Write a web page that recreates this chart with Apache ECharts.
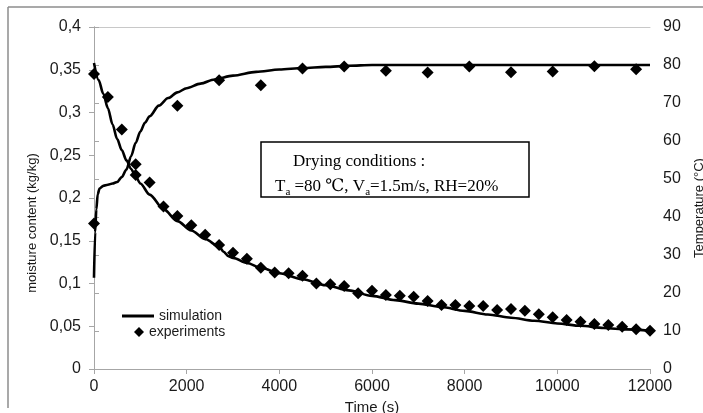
<!DOCTYPE html>
<html>
<head>
<meta charset="utf-8">
<script src="https://cdn.jsdelivr.net/npm/echarts@6/dist/echarts.min.js"></script>
<style>
html,body{margin:0;padding:0;background:#fff;}
#chart{width:703px;height:413px;}
</style>
</head>
<body>
<div id="chart"></div>
<script>
// Time axis ticks (s)
const timeTicks = [0, 2000, 4000, 6000, 8000, 10000, 12000];
const moistureTickLabels = ['0','0,05','0,1','0,15','0,2','0,25','0,3','0,35','0,4'];
const temperatureTickLabels = ['0','10','20','30','40','50','60','70','80','90'];

// Simulation: moisture content (kg/kg)
const simMoistTime = [0,100,200,300,400,500,600,700,800,900,1000,1200,1500,1800,2100,2400,2700,2800,2900,3000,3300,3600,4000,4500,5000,5500,6000,6500,7000,7500,8000,8500,9000,9500,10000,10500,11000,11500,12000];
const simMoistVal  = [0.358,0.338,0.322,0.305,0.286,0.269,0.256,0.244,0.234,0.225,0.217,0.204,0.187,0.173,0.162,0.152,0.143,0.137,0.132,0.130,0.124,0.1185,0.112,0.105,0.098,0.092,0.0855,0.0805,0.0765,0.0725,0.068,0.0638,0.060,0.0565,0.0533,0.0505,0.048,0.0463,0.0448];

// Simulation: temperature (°C)
const simTempTime = [0,25,50,80,120,200,300,400,500,600,700,800,900,1000,1100,1200,1400,1600,1800,2000,2300,2600,3000,3500,4000,4500,5000,5500,6000,7000,8000,9000,10000,11000,12000];
const simTempVal  = [24,36,42,46,47.5,48.2,48.5,48.8,49.2,50.5,52.5,56,59.5,62.5,64.8,66.5,69.3,71.3,72.8,73.9,75.1,76.2,77.2,78.2,78.8,79.2,79.5,79.8,80,80,80,80,80,80,80];

// Experiments: moisture content (kg/kg), every 300 s
const expMoistTime = [0,300,600,900,1200,1500,1800,2100,2400,2700,3000,3300,3600,3900,4200,4500,4800,5100,5400,5700,6000,6300,6600,6900,7200,7500,7800,8100,8400,8700,9000,9300,9600,9900,10200,10500,10800,11100,11400,11700,12000];
const expMoistVal  = [0.345,0.318,0.280,0.227,0.218,0.190,0.179,0.168,0.157,0.145,0.136,0.129,0.1185,0.113,0.112,0.109,0.100,0.099,0.097,0.0885,0.0916,0.0865,0.0858,0.0846,0.0795,0.0749,0.0749,0.0737,0.0737,0.069,0.0702,0.0682,0.064,0.0605,0.0573,0.0553,0.0526,0.0515,0.0495,0.0464,0.0448];

// Experiments: temperature (°C), every 900 s
const expTempTime = [0,900,1800,2700,3600,4500,5400,6300,7200,8100,9000,9900,10800,11700];
const expTempVal  = [38.3,53.9,69.3,76.0,74.7,79.1,79.6,78.5,78.0,79.6,78.1,78.3,79.7,78.9];

const pairs = (xs, ys) => xs.map((x, i) => [x, ys[i]]);

const chart = echarts.init(document.getElementById('chart'), null, {renderer: 'canvas'});
const axisGray = '#a6a6a6';
const sansFamily = 'Liberation Sans, Arial, sans-serif';
const labelFont = {color: '#1a1a1a', fontSize: 16, fontFamily: sansFamily};
const legendText = {color: '#1a1a1a', fontSize: 14, fontFamily: sansFamily};

chart.setOption({
  animation: false,
  backgroundColor: '#fff',
  grid: {left: 94, right: 53, top: 27, bottom: 44, containLabel: false, outerBoundsMode: 'none'},
  legend: [{
    data: [{name: 'simulation', icon: 'rect'}],
    left: 117, top: 304,
    itemWidth: 32, itemHeight: 3,
    selectedMode: false,
    textStyle: legendText
  }, {
    data: [{name: 'experiments', icon: 'diamond'}],
    left: 129, top: 320,
    itemWidth: 10, itemHeight: 10,
    selectedMode: false,
    textStyle: legendText
  }],
  xAxis: [{
    type: 'value', min: 0, max: 12000, interval: 2000,
    name: 'Time (s)', nameLocation: 'middle', nameGap: 27,
    nameTextStyle: {color: '#1a1a1a', fontSize: 15, fontFamily: sansFamily},
    axisLine: {show: true, lineStyle: {color: axisGray, width: 1}},
    axisTick: {show: true, length: 5, inside: false, lineStyle: {color: axisGray}},
    axisLabel: Object.assign({margin: 10, formatter: v => String(timeTicks[Math.round(v / 2000)])}, labelFont),
    splitLine: {show: false}
  }, {
    type: 'value', min: 0, max: 12000, position: 'top',
    axisLine: {show: true, onZero: false, lineStyle: {color: '#c8c8c8', width: 1}},
    axisTick: {show: false}, axisLabel: {show: false}, splitLine: {show: false}
  }],
  yAxis: [{
    type: 'value', min: 0, max: 0.4, interval: 0.05, position: 'left',
    name: 'moisture content (kg/kg)', nameLocation: 'middle', nameGap: 48, nameRotate: 90,
    nameTextStyle: {color: '#1a1a1a', fontSize: 13, fontFamily: sansFamily, padding: [0, 50, 0, 0]},
    axisLine: {show: true, lineStyle: {color: axisGray, width: 1}},
    axisTick: {show: true, length: 5, inside: false, lineStyle: {color: axisGray}},
    axisLabel: Object.assign({margin: 13, formatter: v => moistureTickLabels[Math.round(v / 0.05)]}, labelFont),
    splitLine: {show: false}
  }, {
    type: 'value', min: 0, max: 90, interval: 10, position: 'right',
    name: 'Temperature (°C)', nameLocation: 'middle', nameGap: 43, nameRotate: 90,
    nameTextStyle: {color: '#1a1a1a', fontSize: 13, fontFamily: sansFamily, padding: [0, 20, 0, 0]},
    axisLine: {show: true, lineStyle: {color: axisGray, width: 1}},
    axisTick: {show: true, length: 5, inside: false, lineStyle: {color: axisGray}},
    axisLabel: Object.assign({margin: 13, formatter: v => temperatureTickLabels[Math.round(v / 10)]}, labelFont),
    splitLine: {show: false}
  }],
  series: [{
    name: 'simulation', type: 'line', yAxisIndex: 0,
    data: pairs(simMoistTime, simMoistVal),
    symbol: 'none', smooth: 0.3, smoothMonotone: 'x',
    lineStyle: {color: '#000', width: 2.6}, itemStyle: {color: '#000'}, z: 3
  }, {
    name: 'simulation', type: 'line', yAxisIndex: 1,
    data: pairs(simTempTime, simTempVal),
    symbol: 'none', smooth: 0.3, smoothMonotone: 'x',
    lineStyle: {color: '#000', width: 2.6}, itemStyle: {color: '#000'}, z: 3
  }, {
    name: 'experiments', type: 'scatter', yAxisIndex: 0,
    data: pairs(expMoistTime, expMoistVal),
    symbol: 'diamond', symbolSize: 12,
    itemStyle: {color: '#000', opacity: 1}, z: 4
  }, {
    name: 'experiments', type: 'scatter', yAxisIndex: 1,
    data: pairs(expTempTime, expTempVal),
    symbol: 'diamond', symbolSize: 12,
    itemStyle: {color: '#000', opacity: 1}, z: 4
  }],
  graphic: [
    {type: 'line', shape: {x1: 8, y1: 7, x2: 703, y2: 7}, style: {stroke: '#8c8c8c', lineWidth: 1.5}, silent: true},
    {type: 'line', shape: {x1: 8, y1: 7, x2: 8, y2: 408}, style: {stroke: '#8c8c8c', lineWidth: 1.5}, silent: true},
    {type: 'rect', shape: {x: 261, y: 142, width: 268, height: 55}, style: {fill: '#fff', stroke: '#000', lineWidth: 1.5}, z: 10, silent: true},
    {type: 'text', x: 293, y: 162, z: 11, silent: true,
      style: {text: 'Drying conditions :', fill: '#000', font: '17px "Liberation Serif", "Times New Roman", serif', textAlign: 'left', textVerticalAlign: 'middle'}},
    {type: 'text', x: 275, y: 185, z: 11, silent: true,
      style: {
        text: '{n|T}{s|a}{n| =80 ℃, V}{s|a}{n|=1.5m/s, RH=20%}',
        textAlign: 'left', textVerticalAlign: 'middle',
        rich: {
          n: {fontSize: 17, fontFamily: '"Liberation Serif", "DejaVu Serif", serif', fill: '#000', color: '#000', lineHeight: 20, verticalAlign: 'bottom'},
          s: {fontSize: 11, fontFamily: '"Liberation Serif", "DejaVu Serif", serif', fill: '#000', color: '#000', lineHeight: 14, verticalAlign: 'bottom', padding: [0, 0, -3, 0]}
        }
      }}
  ]
});
</script>
</body>
</html>
